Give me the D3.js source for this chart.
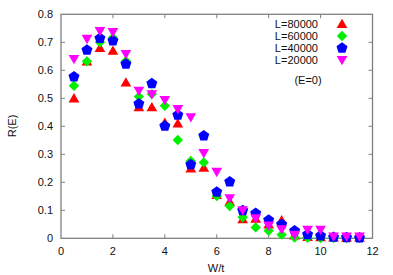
<!DOCTYPE html>
<html><head><meta charset="utf-8">
<script src="https://cdn.jsdelivr.net/npm/d3@7"></script>
<style>body{margin:0;background:#fff}svg{display:block}text{font-family:"Liberation Sans",Arial,sans-serif;}</style>
</head><body>
<script>
const W = [0.5,1,1.5,2,2.5,3,3.5,4,4.5,5,5.5,6,6.5,7,7.5,8,8.5,9,9.5,10,10.5,11,11.5];
const L80000 = [0.50,0.632,0.68,0.67,0.557,0.468,0.468,0.413,0.41,0.25,0.252,0.155,0.131,0.068,0.07,0.05,0.065,0.01,0.005,0.004,0.003,0.002,0.002];
const L60000 = [0.545,0.632,0.70,0.716,0.633,0.506,0.515,0.473,0.351,0.276,0.271,0.151,0.115,0.075,0.039,0.027,0.013,0.003,0.002,0.001,0.001,0.001,0.001];
const L40000 = [0.577,0.672,0.714,0.705,0.622,0.48,0.553,0.401,0.44,0.263,0.366,0.165,0.202,0.099,0.089,0.065,0.05,0.027,0.013,0.009,0.004,0.003,0.002];
const L20000 = [0.64,0.712,0.74,0.736,0.658,0.527,0.514,0.494,0.461,0.432,0.304,0.237,0.143,0.10,0.071,0.045,0.032,0.012,0.03,0.03,0.006,0.006,0.006];
const seriesNames = ["L=80000","L=60000","L=40000","L=20000"];
const xTicks = [0,2,4,6,8,10,12];
const yTicks = [0,0.1,0.2,0.3,0.4,0.5,0.6,0.7,0.8];

const series = [
  {name: seriesNames[0], values: L80000, color: "#ff0000", shape: "tri"},
  {name: seriesNames[1], values: L60000, color: "#00f000", shape: "dia"},
  {name: seriesNames[2], values: L40000, color: "#0000ff", shape: "pent"},
  {name: seriesNames[3], values: L20000, color: "#ff00ff", shape: "itri"}
];

const svg = d3.select("body").append("svg").attr("width",393).attr("height",275);
const x = d3.scaleLinear().domain([0,12]).range([61,372.5]);
const y = d3.scaleLinear().domain([0,0.8]).range([238.3,14.3]);

function poly(n, r, rot) {
  const pts = [];
  for (let i=0;i<n;i++){ const a = rot + i*2*Math.PI/n; pts.push([r*Math.sin(a), -r*Math.cos(a)]); }
  return "M"+pts.map(p=>p[0].toFixed(2)+","+p[1].toFixed(2)).join("L")+"Z";
}
const shapes = {
  tri: poly(3, 6.2, 0),
  itri: poly(3, 6.2, Math.PI),
  dia: poly(4, 5.2, 0),
  pent: poly(5, 5.8, 0)
};
const off = s => s==="tri"?1:s==="itri"?-1:0;

const g = svg.append("g");
g.append("rect").attr("x",x(0)).attr("y",y(0.8)).attr("width",x(12)-x(0)).attr("height",y(0)-y(0.8))
 .attr("fill","none").attr("stroke","#808080").attr("stroke-width",1.3);
xTicks.slice(1,-1).forEach(t=>{
  g.append("line").attr("x1",x(t)).attr("x2",x(t)).attr("y1",y(0)).attr("y2",y(0)-4).attr("stroke","#808080");
  g.append("line").attr("x1",x(t)).attr("x2",x(t)).attr("y1",y(0.8)).attr("y2",y(0.8)+4).attr("stroke","#808080");
});
yTicks.slice(1,-1).forEach(t=>{
  g.append("line").attr("x1",x(0)).attr("x2",x(0)+4).attr("y1",y(t)).attr("y2",y(t)).attr("stroke","#808080");
  g.append("line").attr("x1",x(12)).attr("x2",x(12)-4).attr("y1",y(t)).attr("y2",y(t)).attr("stroke","#808080");
});
xTicks.forEach(t=>{
  svg.append("text").attr("x",x(t)).attr("y",255).attr("text-anchor","middle").attr("font-size",11).attr("fill","#111").text(t);
});
yTicks.forEach(t=>{
  svg.append("text").attr("x",53).attr("y",y(t)+4).attr("text-anchor","end").attr("font-size",11).attr("fill","#111").text(t===0?"0":t.toFixed(1));
});
svg.append("text").attr("x",216).attr("y",272).attr("text-anchor","middle").attr("font-size",11).attr("fill","#111").text("W/t");
svg.append("text").attr("transform","translate(16,126) rotate(-90)").attr("text-anchor","middle").attr("font-size",11).attr("fill","#111").text("R(E)");

series.forEach(s=>{
  svg.append("g").selectAll("path").data(s.values.map((v,i)=>[W[i],v])).join("path")
    .attr("d",shapes[s.shape])
    .attr("transform",d=>`translate(${x(d[0])},${y(d[1]) + off(s.shape)})`)
    .attr("fill",s.color);
});

series.forEach((s,i)=>{
  const yy = 24 + i*12;
  svg.append("text").attr("x",318).attr("y",yy+4).attr("text-anchor","end").attr("font-size",11).attr("fill","#111").text(s.name);
  svg.append("path").attr("d",shapes[s.shape]).attr("transform",`translate(342,${yy + off(s.shape)})`).attr("fill",s.color);
});
svg.append("text").attr("x",308).attr("y",84).attr("text-anchor","middle").attr("font-size",11).attr("fill","#111").text("(E=0)");
</script>
</body></html>
